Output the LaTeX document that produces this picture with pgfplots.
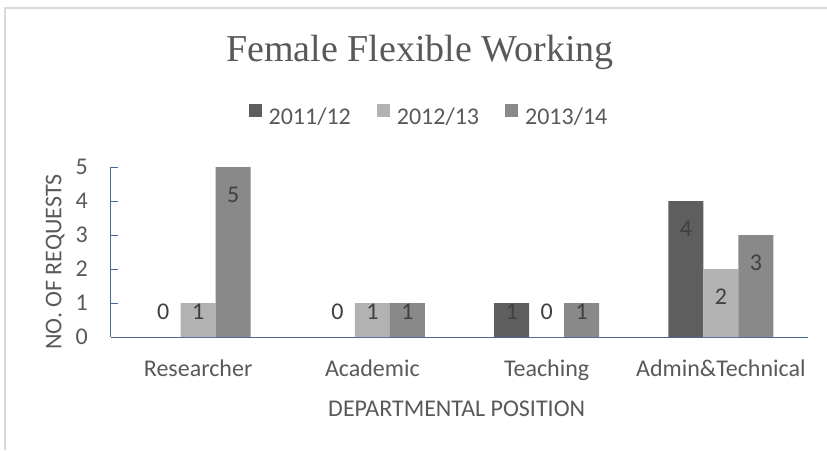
\documentclass[border=0pt]{standalone}
\usepackage{fontspec}
\setmainfont{Carlito}
\newfontfamily\titlefont{Liberation Serif}
\usepackage{pgfplots}
\pgfplotsset{compat=1.18}
\definecolor{sA}{HTML}{5E5E5E}
\definecolor{sB}{HTML}{B2B2B2}
\definecolor{sC}{HTML}{898989}
\definecolor{axisc}{HTML}{4A6896}
\definecolor{txt}{HTML}{595959}
\definecolor{lbl}{HTML}{404040}
\definecolor{frame}{HTML}{D9D9D9}
\begin{document}
\begin{tikzpicture}
\path[use as bounding box] (-111pt,-113pt) rectangle (716pt,337pt);
\draw[draw=frame, line width=1.2pt] (-106pt,-113pt) -- (-106pt,329pt) -- (716pt,329pt);
\node[font=\titlefont\fontsize{38}{44}\selectfont, text=txt, anchor=base, inner sep=0pt] at (309pt,275pt) {Female Flexible Working};
\begin{axis}[
  at={(0pt,0pt)}, anchor=south west,
  scale only axis, width=697pt, height=170pt,
  ybar=0pt, bar width=35pt,
  enlargelimits=false,
  xmin=-0.5, xmax=3.5, ymin=0, ymax=5,
  xtick={0,1,2,3},
  xticklabels={Researcher,Academic,Teaching,Admin\&Technical},
  ytick={0,1,2,3,4,5},
  axis x line*=bottom, axis y line*=left,
  axis line style={draw=axisc, line width=1pt},
  major tick length=7pt, tick align=inside,
  xtick style={draw=none},
  ytick style={draw=axisc, line width=1pt},
  tick label style={font=\fontsize{24}{28}\selectfont, text=txt},
  /pgf/number format/assume math mode=true,
  yticklabel style={anchor=east, inner sep=0pt, xshift=-23pt},
  xticklabel style={anchor=base, inner sep=0pt, yshift=-39pt},
  xlabel={DEPARTMENTAL POSITION},
  xlabel style={at={(axis description cs:0.496,-0.4235)}, anchor=center, font=\fontsize{24}{28}\selectfont, text=txt},
  ylabel={NO. OF REQUESTS},
  ylabel style={at={(axis description cs:-0.080,0.441)}, anchor=center, font=\fontsize{24}{28}\selectfont, text=txt},
  nodes near coords,
  nodes near coords style={font=\fontsize{24}{28}\selectfont, text=lbl, anchor=center, inner sep=0pt},
  visualization depends on={rawy \as \rawy},
  every node near coord/.append style={yshift={max(-28pt,25pt-34pt*\rawy)}},
  legend columns=3,
  legend style={at={(axis description cs:0.4548,1.306)}, anchor=center, draw=none, fill=none,
    font=\fontsize{24}{28}\selectfont, text=txt, column sep=0pt, nodes={inner sep=0pt},
    /tikz/every even column/.append style={column sep=26pt}},
  legend image code/.code={\fill[#1] (0pt,0pt) rectangle (13pt,13pt); \path (20pt,0pt);},
]
\addplot[fill=sA, draw=none] coordinates {(0,0) (1,0) (2,1) (3,4)};
\addplot[fill=sB, draw=none] coordinates {(0,1) (1,1) (2,0) (3,2)};
\addplot[fill=sC, draw=none] coordinates {(0,5) (1,1) (2,1) (3,3)};
\legend{2011/12,2012/13,2013/14}
\end{axis}
\end{tikzpicture}
\end{document}
